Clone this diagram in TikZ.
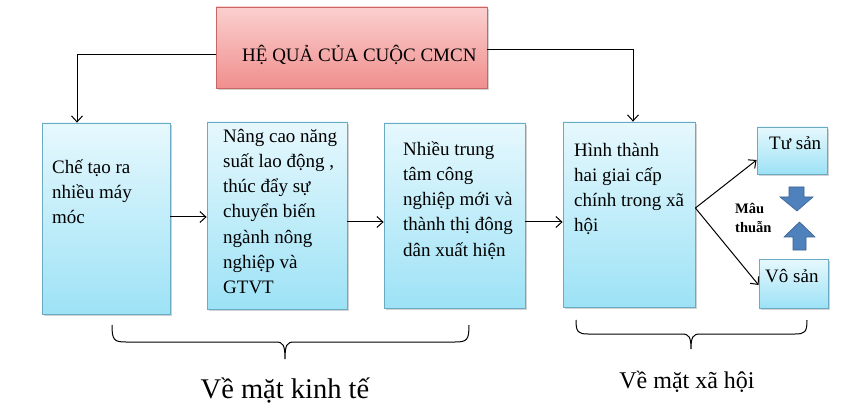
\documentclass[tikz,border=0pt]{standalone}
\usepackage{fontspec}
\setmainfont{Liberation Serif}
\usetikzlibrary{arrows.meta,shadows}
\definecolor{bluetop}{HTML}{E6F8FD}
\definecolor{bluebot}{HTML}{9DE2F6}
\definecolor{blueline}{HTML}{6AAAC2}
\definecolor{pinktop}{HTML}{FAD0CF}
\definecolor{pinkbot}{HTML}{F08F8E}
\definecolor{pinkline}{HTML}{C96563}
\definecolor{barrow}{HTML}{4F81BD}
\definecolor{barrowline}{HTML}{3A6291}
\tikzset{
  bluebox/.style={rectangle, draw=blueline, line width=0.8pt, top color=bluetop, bottom color=bluebot,
    drop shadow={shadow xshift=1.5pt, shadow yshift=-2pt, opacity=0.35}, inner sep=0pt},
  pinkbox/.style={rectangle, draw=pinkline, line width=0.8pt, top color=pinktop, bottom color=pinkbot,
    drop shadow={shadow xshift=1.5pt, shadow yshift=-2pt, opacity=0.35}, inner sep=0pt},
  boxtext/.style={anchor=base west, align=left, inner sep=0pt, font=\fontsize{19}{25.3}\selectfont},
  arr/.style={-{Straight Barb[length=6pt,width=11pt]}, line width=1pt},
  bracel/.style={line width=1pt},
  blockarr/.style={fill=barrow, draw=barrowline, line width=0.6pt},
}
\begin{document}
\begin{tikzpicture}[x=1pt,y=-1pt]
\useasboundingbox[fill=white] (0,0) rectangle (863,409);
% boxes
\node[pinkbox, minimum width=271pt, minimum height=81pt] (title) at (351.5,47.5) {};
\node[bluebox, minimum width=128pt, minimum height=191pt] (box1) at (106,218.5) {};
\node[bluebox, minimum width=140pt, minimum height=187pt] (box2) at (277,215.5) {};
\node[bluebox, minimum width=141pt, minimum height=185pt] (box3) at (454.5,215.5) {};
\node[bluebox, minimum width=132pt, minimum height=185pt] (box4) at (629,214.5) {};
\node[bluebox, minimum width=70pt, minimum height=47pt] (tusan) at (792,150.5) {};
\node[bluebox, minimum width=69pt, minimum height=49pt] (vosan) at (793.5,283.5) {};
% texts (anchor base = baseline of the last line)
\node[boxtext] (ttitle) at (242,62) {HỆ QUẢ CỦA CUỘC CMCN};
\node[boxtext] (t1) at (52,223.6) {Chế tạo ra\\nhiều máy\\móc};
\node[boxtext] (t2) at (223,293.8) {Nâng cao năng\\suất lao động ,\\thúc đẩy sự\\chuyển biến\\ngành nông\\nghiệp và\\GTVT};
\node[boxtext] (t3) at (403,256.2) {Nhiều trung\\tâm công\\nghiệp mới và\\thành thị đông\\dân xuất hiện};
\node[boxtext] (t4) at (574,231.9) {Hình thành\\hai giai cấp\\chính trong xã\\hội};
\node[boxtext] (ttu) at (769,150) {Tư sản};
\node[boxtext] (tvo) at (765,282) {Vô sản};
\node[anchor=base west, align=left, inner sep=0pt, font=\bfseries\fontsize{14.5}{19}\selectfont] (mau) at (735,233) {Mâu\\thuẫn};
\node[anchor=base, inner sep=0pt, font=\fontsize{28.5}{30}\selectfont] (kinhte) at (285,398) {Về mặt kinh tế};
\node[anchor=base, inner sep=0pt, font=\fontsize{24}{26}\selectfont] (xahoi) at (687,388) {Về mặt xã hội};
% connectors
\draw[arr] (title.west |- 0,55) -| ([xshift=-29pt]box1.north);
\draw[arr] (title.east |- 0,50) -| ([xshift=4pt]box4.north);
\draw[arr] (box1.east |- 0,217) -- (box2.west |- 0,217);
\draw[arr] (box2.east |- 0,222) -- (box3.west |- 0,222);
\draw[arr] (box3.east |- 0,222) -- (box4.west |- 0,222);
\coordinate (fork) at (box4.east |- 0,208);
\draw[arr] (fork) -- (tusan.west |- 0,160);
\draw[arr] (fork) -- (vosan.west |- 0,285);
% block arrows
\draw[blockarr] (789,187) -- (804,187) -- (804,197) -- (813,197) -- (797,211) -- (780,197) -- (789,197) -- cycle;
\draw[blockarr] (799.5,222) -- (815,237) -- (806,237) -- (806,250) -- (793,250) -- (793,237) -- (784,237) -- cycle;
% braces
\draw[bracel] (112,325) .. controls (112,340) and (114,342) .. (126,342) -- (276,342)
  .. controls (283,342) and (285,345) .. (285,359)
  .. controls (285,345) and (287,342) .. (294,342) -- (455,342)
  .. controls (467,342) and (469,340) .. (469,325);
\draw[bracel] (576,320) .. controls (576,332) and (578,334) .. (588,334) -- (682,334)
  .. controls (689,334) and (691,337) .. (691,349)
  .. controls (691,337) and (693,334) .. (700,334) -- (795,334)
  .. controls (805,334) and (807,332) .. (807,320);
\end{tikzpicture}
\end{document}
